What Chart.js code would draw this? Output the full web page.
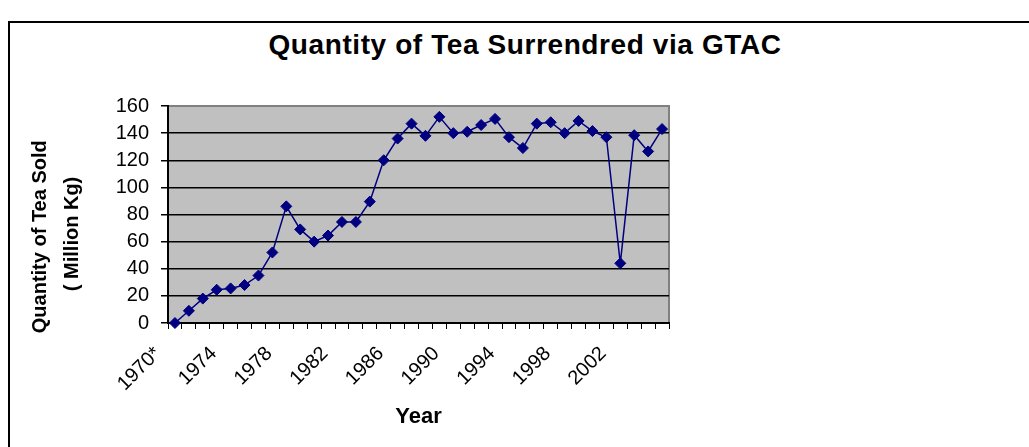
<!DOCTYPE html>
<html><head><meta charset="utf-8">
<script src="https://cdn.jsdelivr.net/npm/chart.js@4"></script>
<style>
html,body{margin:0;padding:0;background:#fff;width:1029px;height:447px;overflow:hidden;position:relative}
#frame{position:absolute;left:8px;top:21px;width:1040px;height:440px;border-left:2px solid #000;border-top:2px solid #000;}
#title{position:absolute;left:525px;top:31px;transform:translateX(-50%);font:bold 28px "Liberation Sans",Arial,sans-serif;letter-spacing:0.6px;white-space:nowrap;color:#000;line-height:28px}
canvas{position:absolute;left:0;top:0}
</style></head><body>
<div id="frame"></div>
<div id="title"></div>
<canvas id="c" width="1029" height="447"></canvas>
<script>
const chartTitle = 'Quantity of Tea Surrendred via GTAC';
const years = ['1970*','1971','1972','1973','1974','1975','1976','1977','1978','1979',
  '1980','1981','1982','1983','1984','1985','1986','1987','1988','1989',
  '1990','1991','1992','1993','1994','1995','1996','1997','1998','1999',
  '2000','2001','2002','2003','2004','2005'];
const quantities = [0, 9, 18, 24.5, 25.5, 28, 35, 52, 86, 69,
  60, 64.5, 74.5, 74.5, 89.5, 120, 136, 147, 138, 152,
  140, 141, 146, 150.5, 137, 129, 147, 148, 140, 149,
  141.5, 137, 44, 138.5, 126.5, 143];
const yMin = 0, yMax = 160, yStep = 20;
const yTitleLines = ['Quantity of Tea Sold', '( Million Kg)'];
const xTitle = 'Year';
const labelEvery = 4;

document.getElementById('title').textContent = chartTitle;

const FONT = '"Liberation Sans", Arial, sans-serif';

const plotBg = {
  id: 'plotBg',
  beforeDraw(chart) {
    const {ctx, chartArea: a} = chart;
    ctx.save();
    ctx.fillStyle = '#c0c0c0';
    ctx.fillRect(a.left, a.top, a.right - a.left, a.bottom - a.top);
    ctx.strokeStyle = '#808080';
    ctx.lineWidth = 2;
    ctx.beginPath();
    ctx.moveTo(a.left, a.top);
    ctx.lineTo(a.right, a.top);
    ctx.lineTo(a.right, a.bottom);
    ctx.stroke();
    ctx.restore();
  }
};

new Chart(document.getElementById('c'), {
  type: 'line',
  data: {
    labels: years,
    datasets: [{
      data: quantities,
      borderColor: '#000080',
      borderWidth: 1.5,
      backgroundColor: '#000080',
      pointStyle: 'rectRot',
      pointRadius: 5.5,
      pointBackgroundColor: '#000080',
      pointBorderColor: '#000080',
      pointBorderWidth: 1,
      tension: 0,
      fill: false,
      clip: false
    }]
  },
  options: {
    responsive: false,
    animation: false,
    devicePixelRatio: 1,
    layout: {padding: {top: 106, right: 360, bottom: 0, left: 0}},
    plugins: {legend: {display: false}, tooltip: {enabled: false}, title: {display: false}},
    scales: {
      x: {
        type: 'category',
        offset: true,
        afterFit(s) { s.height = 124; },
        grid: {offset: true, drawOnChartArea: false, tickLength: 6, color: '#000', lineWidth: 1},
        border: {color: '#000', width: 2},
        ticks: {
          autoSkip: false, maxRotation: 45, minRotation: 45,
          labelOffset: -17, padding: 13,
          color: '#000', font: {family: FONT, size: 20},
          callback: (v, i) => (i % labelEvery === 0 ? years[i] : '')
        },
        title: {display: true, text: xTitle, color: '#000',
          font: {family: FONT, size: 22, weight: 'bold'}, padding: {top: 0, bottom: 17}}
      },
      y: {
        min: yMin, max: yMax,
        afterFit(s) { s.width = 168; },
        grid: {
          color: (c) => (c.tick && c.tick.value === yMax ? '#808080' : '#000'),
          tickColor: '#000', lineWidth: 1.5, tickLength: 7
        },
        border: {color: '#000', width: 2},
        ticks: {stepSize: yStep, padding: 12, color: '#000', font: {family: FONT, size: 20}},
        title: {display: true,
          text: [yTitleLines[0] + ' '.repeat(8), yTitleLines[1] + ' '.repeat(7)],
          color: '#000', font: {family: FONT, size: 20, weight: 'bold', lineHeight: 1.6},
          padding: {top: 24, bottom: 0}}
      }
    }
  },
  plugins: [plotBg]
});
</script>
</body></html>
